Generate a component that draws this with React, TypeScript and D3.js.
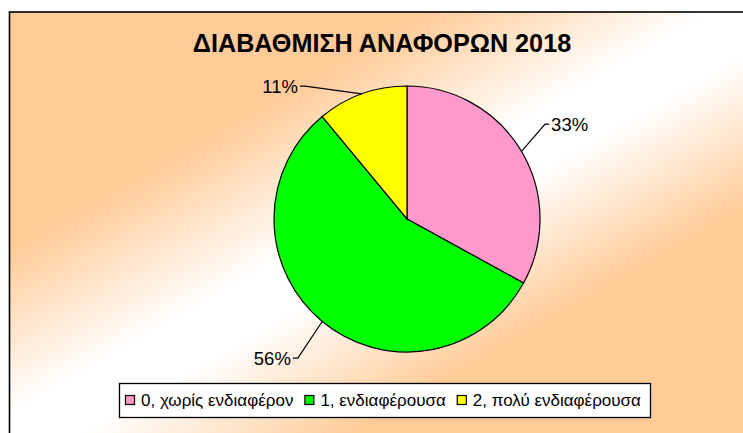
import React from "react";
import * as d3 from "d3";

const categories = ["0, χωρίς ενδιαφέρον", "1, ενδιαφέρουσα", "2, πολύ ενδιαφέρουσα"];
const values = [33, 56, 11];
const colors = ["#FF99CC", "#00FF00", "#FFFF00"];
const title = "ΔΙΑΒΑΘΜΙΣΗ ΑΝΑΦΟΡΩΝ 2018";

const WIDTH = 743;
const HEIGHT = 433;
const CX = 407;
const CY = 219;
const RADIUS = 133;
const FONT = "'Liberation Sans', Arial, sans-serif";

// label placement tweaks (degrees off the slice middle, radius factor)
const LABEL_SHIFT = [-3.9, -1.5, -17.7];
const LABEL_RADIUS = [1.26, 1.33, 1.26];

const measure = (text: string, font: string) => {
  const ctx = document.createElement("canvas").getContext("2d")!;
  ctx.font = font;
  return ctx.measureText(text).width;
};

const App = () => {
  const pie = d3.pie<number>().sort(null).value((d) => d);
  const arcs = pie(values);
  const arc = d3.arc<d3.PieArcDatum<number>>().innerRadius(0).outerRadius(RADIUS);
  const total = d3.sum(values);

  const polar = (angle: number, r: number) => [Math.sin(angle) * r, -Math.cos(angle) * r];

  // legend layout
  const legendFont = `17px ${FONT}`;
  let lx = 125;
  const legendItems = categories.map((c, i) => {
    const x = lx;
    const w = measure(c, legendFont);
    lx = x + 9 + 7 + w + 11;
    return { x, label: c, color: colors[i] };
  });

  return (
    <svg
      width={WIDTH}
      height={HEIGHT}
      style={{ position: "absolute", left: 0, top: 0 }}
      fontFamily={FONT}
    >
      <defs>
        <linearGradient id="bg" x1="0" y1="0" x2="1" y2="1">
          <stop offset="0" stopColor="#FFCC99" />
          <stop offset="0.28" stopColor="#FFCC99" />
          <stop offset="0.47" stopColor="#FFFFFF" />
          <stop offset="0.54" stopColor="#FFFFFF" />
          <stop offset="0.72" stopColor="#FFCC99" />
          <stop offset="1" stopColor="#FFCC99" />
        </linearGradient>
      </defs>
      <rect width={WIDTH} height={HEIGHT} fill="#fff" />
      <rect x={9.5} y={12} width={748} height={428} fill="url(#bg)" stroke="#000" strokeWidth={1.6} />

      <text x={382} y={52} textAnchor="middle" fontWeight="bold" fontSize={25.2} fill="#000">
        {title}
      </text>

      <g transform={`translate(${CX},${CY})`}>
        {arcs.map((a, i) => (
          <path key={i} d={arc(a)!} fill={colors[i]} stroke="#000" strokeWidth={1.2} />
        ))}
        {arcs.map((a, i) => {
          const mid = (a.startAngle + a.endAngle) / 2;
          const [ex, ey] = polar(mid, RADIUS);
          const [ax, ay] = polar(mid + (LABEL_SHIFT[i] * Math.PI) / 180, RADIUS * LABEL_RADIUS[i]);
          const right = ax > 0;
          const hx = ax + (right ? 4 : -5);
          const pct = `${Math.round((a.value / total) * 100)}%`;
          return (
            <g key={`l${i}`}>
              <polyline
                points={`${ex},${ey} ${ax},${ay} ${hx},${ay}`}
                fill="none"
                stroke="#000"
                strokeWidth={1.2}
              />
              <text
                x={hx + (right ? 2 : -2)}
                y={ay}
                dy="0.36em"
                textAnchor={right ? "start" : "end"}
                fontSize={18.5}
                fill="#000"
              >
                {pct}
              </text>
            </g>
          );
        })}
      </g>

      <rect x={119.5} y={383.5} width={531} height={34} fill="#fff" stroke="#000" strokeWidth={1.3} />
      {legendItems.map((d, i) => (
        <g key={i}>
          <rect x={d.x + 0.5} y={395.5} width={9} height={9} fill={d.color} stroke="#000" strokeWidth={1.2} />
          <text x={d.x + 16} y={406} fontSize={17} fill="#000">
            {d.label}
          </text>
        </g>
      ))}
    </svg>
  );
};

export default App;
